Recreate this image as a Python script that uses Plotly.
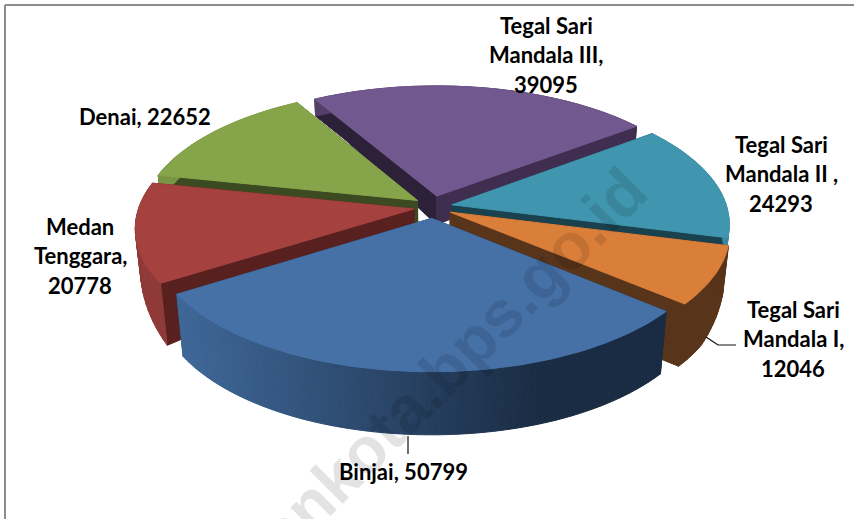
import numpy as np
import plotly.graph_objects as go

categories = ["Binjai", "Medan Tenggara", "Denai", "Tegal Sari Mandala III", "Tegal Sari Mandala II", "Tegal Sari Mandala I"]
values = [50799, 20778, 22652, 39095, 24293, 12046]
top_colors = ["#4571A7", "#A5413F", "#86A44A", "#71588F", "#4096AF", "#DA7F3A"]
cut_colors_a = ["#1B2D45", "#58211F", "#3B4A20", "#2C2139", "#1A424E", "#58341A"]
cut_colors_b = ["#1B2D45", "#58211F", "#3B4A20", "#3F2E50", "#1A424E", "#58341A"]
rim_left = ["#3F6899", "#8F3A38", "#7A9543", "#5F4A78", "#3A8AA0", "#58341A"]
rim_right = ["#1A2C44", "#8F3A38", "#7A9543", "#3F2E50", "#3A8AA0", "#58341A"]
label_lines = [
    (["Binjai, 50799"], 403, 471),
    (["Medan", "Tenggara,", "20778"], 80, 226),
    (["Denai, 22652"], 145, 116),
    (["Tegal Sari", "Mandala III,", "39095"], 546, 25),
    (["Tegal Sari", "Mandala II ,", "24293"], 781, 144),
    (["Tegal Sari", "Mandala I,", "12046"], 793, 309),
]

START = 130.0
EXPLODE = 0.07
CX, CY = 433.0, 207.0
RX, RY, K = 275.0, 128.5, 0.14
LINE_H = 29.5


def depth(yf):
    return np.interp(yf, [-1.0, -0.7, -0.1, 0.55, 1.0], [17, 17, 28, 62, 63])


def project(x, y, lower=False):
    x, y = np.asarray(x, float), np.asarray(y, float)
    w = 1 - K * y
    px = RX * x / w
    py = RY * y / w
    if lower:
        h = depth(y)
        return CX + px * (1 - 0.0004 * h), CY + py + h
    return CX + px, CY + py


def mix(c1, c2, t):
    a = [int(c1[i:i + 2], 16) for i in (1, 3, 5)]
    b = [int(c2[i:i + 2], 16) for i in (1, 3, 5)]
    return "rgb(%d,%d,%d)" % tuple(round(p + (q - p) * t) for p, q in zip(a, b))


fig = go.Figure()


def poly(xs, ys, color):
    fig.add_trace(go.Scatter(x=list(xs) + [xs[0]], y=list(ys) + [ys[0]], mode="lines", fill="toself",
                             fillcolor=color, line=dict(color=color, width=1), hoverinfo="skip", showlegend=False))


total = sum(values)
spans = []
a0 = START
for v in values:
    spans.append((a0, a0 + v / total * 360))
    a0 += v / total * 360

for i in [3, 2, 4, 1, 5, 0]:
    t0, t1 = spans[i]
    mid = np.radians((t0 + t1) / 2)
    ax, ay = EXPLODE * np.sin(mid), -EXPLODE * np.cos(mid) * 1.25
    nseg = 160 if i == 0 else 24
    th = np.radians(np.linspace(t0, t1, nseg + 1))
    ox, oy = ax + np.sin(th), ay - np.cos(th)
    for (ex, ey, col) in [(ox[0], oy[0], cut_colors_a[i]), (ox[-1], oy[-1], cut_colors_b[i])]:
        sx = np.linspace(ax, ex, 12)
        sy = np.linspace(ay, ey, 12)
        ux, uy = project(sx, sy)
        lx, ly = project(sx, sy, True)
        poly(np.r_[ux, lx[::-1]], np.r_[uy, ly[::-1]], col)
    ux, uy = project(ox, oy)
    lx, ly = project(ox, oy, True)
    for j in range(nseg):
        f = float(np.clip((ux[j] - 177) / (540 - 177), 0, 1))
        poly(np.r_[ux[j:j + 2], lx[j:j + 2][::-1]], np.r_[uy[j:j + 2], ly[j:j + 2][::-1]],
             mix(rim_left[i], rim_right[i], f))
    px, py = project(np.r_[ax, ox], np.r_[ay, oy])
    poly(px, py, top_colors[i])

annotations = []
for lines, x, y in label_lines:
    for n, line in enumerate(lines):
        annotations.append(dict(x=x, y=y + n * LINE_H, text="<b>%s</b>" % line, showarrow=False, xanchor="center",
                                yanchor="middle", font=dict(family="Lato", size=22, color="#000000")))
annotations.append(dict(x=405, y=409, text="<b>medankota.bps.go.id</b>", showarrow=False, textangle=-45,
                        xanchor="center", yanchor="middle",
                        font=dict(family="Liberation Sans", size=65, color="rgba(0,0,0,0.11)")))

shapes = [
    dict(type="line", x0=5, y0=5, x1=854, y1=5, line=dict(color="#8C8C8C", width=2)),
    dict(type="line", x0=5, y0=5, x1=5, y1=519, line=dict(color="#8C8C8C", width=2)),
    dict(type="line", x0=408, y0=436, x1=408, y1=454, line=dict(color="#111111", width=1.2)),
    dict(type="path", path="M706,337 L718,345 L736,345", line=dict(color="#111111", width=1.2)),
]

fig.update_layout(
    width=854, height=519, margin=dict(l=0, r=0, t=0, b=0), paper_bgcolor="white", plot_bgcolor="white",
    xaxis=dict(range=[0, 854], visible=False, fixedrange=True),
    yaxis=dict(range=[519, 0], visible=False, fixedrange=True),
    annotations=annotations, shapes=shapes, showlegend=False,
)
fig.write_html("out.html", config=dict(displayModeBar=False),
               post_script="document.body.style.margin='0';document.body.style.overflow='hidden';")
